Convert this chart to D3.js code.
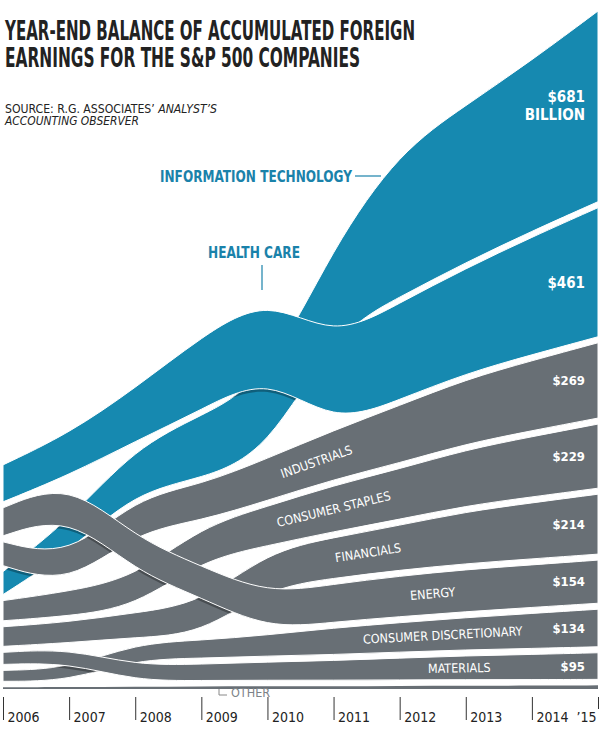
<!DOCTYPE html>
<html>
<head>
<meta charset="utf-8">
<script src="https://cdn.jsdelivr.net/npm/d3@7/dist/d3.min.js"></script>
<style>
    body { margin: 0; background: #fff; }
    svg text { font-family: "DejaVu Sans Condensed", "DejaVu Sans", sans-serif; }
</style>
</head>
<body>
<svg id="chart" width="600" height="735"></svg>
<script>

// year-end balances, $ billion
const years = [2006, 2007, 2008, 2009, 2010, 2011, 2012, 2013, 2014, 2015];
const tickLabels = ["2006", "2007", "2008", "2009", "2010", "2011", "2012", "2013", "2014", "\u201915"];

const infoTech = [82, 112, 158, 225, 255, 310, 520, 560, 610, 681];
const healthCare = [132, 148, 190, 260, 280, 305, 345, 375, 420, 461];
const industrials = [85, 98, 122, 128, 150, 175, 205, 230, 250, 269];
const consumerStaples = [72, 88, 105, 120, 140, 165, 180, 200, 215, 229];
const financials = [70, 74, 88, 110, 130, 145, 160, 185, 200, 214];
const energy = [100, 120, 120, 112, 125, 135, 145, 150, 152, 154];
const consumerDisc = [39, 44, 57, 64, 75, 95, 105, 115, 125, 134];
const materials = [43, 50, 55, 58, 65, 70, 78, 85, 90, 95];
const other = [6, 7, 8, 9, 10, 10, 11, 12, 12, 13];

const sectorNames = ["INFORMATION TECHNOLOGY", "HEALTH CARE", "INDUSTRIALS", "CONSUMER STAPLES",
    "FINANCIALS", "ENERGY", "CONSUMER DISCRETIONARY", "MATERIALS", "OTHER"];

const BLUE = "#1689b0";
const BLUE_TEXT = "#1a82aa";
const GRAY = "#686f75";

/**
 * ranked stream chart: at every year the bands are stacked by size, biggest on top
 * @param svg
 * @constructor
 */
function RankedStream(svg) {

    this.svg = svg;
    this.gap = 6;
    this.baseY = 689;
    this.curve = d3.curveBasis;

    this.x = d3.scaleLinear().domain([2006, 2015]).range([3, 598]);
    this.y = d3.scaleLinear().domain([0, 2400]).range([this.baseY, this.baseY - 2400 * 0.28]);

    this.series = [
        {key: "it", name: sectorNames[0], values: infoTech, color: BLUE},
        {key: "hc", name: sectorNames[1], values: healthCare, color: BLUE},
        {key: "ind", name: sectorNames[2], values: industrials, color: GRAY, labelAt: 2010.74},
        {key: "cs", name: sectorNames[3], values: consumerStaples, color: GRAY, labelAt: 2011.0},
        {key: "fin", name: sectorNames[4], values: financials, color: GRAY, labelAt: 2011.52},
        {key: "en", name: sectorNames[5], values: energy, color: GRAY, labelAt: 2012.5},
        {key: "cd", name: sectorNames[6], values: consumerDisc, color: GRAY, labelAt: 2012.65},
        {key: "mat", name: sectorNames[7], values: materials, color: GRAY, labelAt: 2012.9},
        {key: "oth", name: sectorNames[8], values: other, color: GRAY}
    ];

    // bands that go under other bands are drawn first
    this.drawOrder = ["it", "cd", "oth", "ind", "cs", "fin", "mat", "hc", "en"];

    this.computeLayout();
}

/**
 * stack the sectors for each year, sorted by value
 */
RankedStream.prototype.computeLayout = function () {
    let self = this;

    self.layout = years.map((yr, i) => {
        let vals = self.series.map(s => ({key: s.key, v: s.values[i]}));
        vals.sort((a, b) => a.v - b.v);
        let cum = 0, pos = {};
        vals.forEach((d, r) => {
            pos[d.key] = {y0: self.y(cum) - r * self.gap, y1: self.y(cum + d.v) - r * self.gap};
            cum += d.v;
        });
        return pos;
    });
};

RankedStream.prototype.bandPoints = function (key) {
    let self = this;
    return years.map((yr, i) => ({x: self.x(yr), y0: self.layout[i][key].y0, y1: self.layout[i][key].y1}));
};

/**
 * draw the bands; a band passing over earlier ones casts a small shadow on them
 */
RankedStream.prototype.drawBands = function () {
    let self = this;

    let area = d3.area()
        .x(d => d.x)
        .y0(d => d.y0)
        .y1(d => d.y1)
        .curve(self.curve);

    let defs = self.svg.append("defs");
    let g = self.svg.append("g").attr("class", "bands");
    let drawn = [];

    self.drawOrder.forEach(key => {
        let s = self.series.find(d => d.key === key);
        let d = area(self.bandPoints(key));

        if (drawn.length) {
            let clip = defs.append("clipPath").attr("id", "under-" + key);
            drawn.forEach(pd => clip.append("path").attr("d", pd));
            g.append("g")
                .attr("clip-path", `url(#under-${key})`)
                .append("path")
                .attr("d", d)
                .attr("transform", "translate(0,3)")
                .attr("fill", "rgba(0,0,0,0.3)");
        }

        g.append("path")
            .attr("d", d)
            .attr("fill", s.color)
            .attr("stroke", key === "oth" ? "none" : "#fff")
            .attr("stroke-width", 1);
        drawn.push(d);
    });
};

/**
 * find a point (and slope) on the middle line of a band
 * @param key
 * @param yr
 */
RankedStream.prototype.pointOnBand = function (key, yr) {
    let self = this;
    let pts = self.bandPoints(key).map(d => [d.x, (d.y0 + d.y1) / 2]);
    let path = self.svg.append("path")
        .attr("d", d3.line().curve(self.curve)(pts))
        .attr("fill", "none");
    let node = path.node(), len = node.getTotalLength(), tx = self.x(yr);
    let lo = 0, hi = len;
    for (let k = 0; k < 30; k++) {
        let mid = (lo + hi) / 2;
        if (node.getPointAtLength(mid).x < tx) lo = mid; else hi = mid;
    }
    let p = node.getPointAtLength(lo);
    let a = node.getPointAtLength(Math.max(0, lo - 10));
    let b = node.getPointAtLength(Math.min(len, lo + 10));
    path.remove();
    return {x: p.x, y: p.y, angle: Math.atan2(b.y - a.y, b.x - a.x) * 180 / Math.PI};
};

RankedStream.prototype.drawLabels = function () {
    let self = this;
    let g = self.svg.append("g").attr("class", "labels");

    // names inside the gray bands
    self.series.filter(s => s.labelAt).forEach(s => {
        let p = self.pointOnBand(s.key, s.labelAt);
        g.append("text")
            .attr("transform", `translate(${p.x},${p.y}) rotate(${p.angle})`)
            .attr("text-anchor", "middle")
            .attr("dy", "0.36em")
            .attr("fill", "#fff")
            .attr("font-size", 12.5)
            .text(s.name);
    });

    // 2015 values at the right edge
    let last = years.length - 1;
    self.series.filter(s => s.key !== "oth").forEach(s => {
        let pos = self.layout[last][s.key];
        let mid = (pos.y0 + pos.y1) / 2;
        let big = s.color === BLUE;
        let t = g.append("text")
            .attr("x", self.x(2015) - 13)
            .attr("text-anchor", "end")
            .attr("fill", "#fff")
            .attr("font-weight", "bold")
            .attr("font-size", big ? 15 : 13);
        if (s.key === "it") {
            t.attr("y", mid - 4).text("$" + s.values[last]);
            g.append("text")
                .attr("x", self.x(2015) - 13)
                .attr("y", mid + 14)
                .attr("text-anchor", "end")
                .attr("fill", "#fff")
                .attr("font-weight", "bold")
                .attr("font-size", 15)
                .text("BILLION");
        } else {
            t.attr("y", mid + (big ? 10 : 0)).attr("dy", "0.36em").text("$" + s.values[last]);
        }
    });

    // blue sector names outside the bands
    g.append("text")
        .attr("x", 352).attr("y", 182)
        .attr("text-anchor", "end")
        .attr("fill", BLUE_TEXT)
        .attr("font-weight", "bold")
        .attr("font-size", 15)
        .attr("textLength", 192)
        .attr("lengthAdjust", "spacingAndGlyphs")
        .text(sectorNames[0]);
    g.append("line")
        .attr("x1", 355).attr("x2", 381).attr("y1", 176).attr("y2", 176)
        .attr("stroke", BLUE_TEXT).attr("stroke-width", 1.2);

    g.append("text")
        .attr("x", 254).attr("y", 258)
        .attr("text-anchor", "middle")
        .attr("fill", BLUE_TEXT)
        .attr("font-weight", "bold")
        .attr("font-size", 15)
        .attr("textLength", 92)
        .attr("lengthAdjust", "spacingAndGlyphs")
        .text(sectorNames[1]);
    g.append("line")
        .attr("x1", 262).attr("x2", 262).attr("y1", 265).attr("y2", 290)
        .attr("stroke", BLUE_TEXT).attr("stroke-width", 1.2);

    // other
    g.append("path")
        .attr("d", "M219,689V695H227")
        .attr("fill", "none")
        .attr("stroke", "#888")
        .attr("stroke-width", 1);
    g.append("text")
        .attr("x", 231).attr("y", 697)
        .attr("fill", "#7d8388")
        .attr("font-size", 12.5)
        .text(sectorNames[8]);
};

RankedStream.prototype.drawAxis = function () {
    let self = this;

    let axis = d3.axisBottom(self.x)
        .tickValues(years)
        .tickSize(23)
        .tickFormat((d, i) => tickLabels[i]);

    let g = self.svg.append("g")
        .attr("transform", "translate(0,697)")
        .call(axis);

    g.select(".domain").remove();
    g.selectAll(".tick line").attr("stroke", "#333");
    g.selectAll(".tick text")
        .attr("y", 25)
        .attr("dy", 0)
        .attr("x", 4)
        .attr("text-anchor", "start")
        .attr("fill", "#222")
        .attr("font-size", 14)
        .attr("font-family", "\"DejaVu Sans Condensed\", sans-serif");

    // last tick: short mark, label on its left
    let lastTick = g.selectAll(".tick").filter(d => d === 2015);
    lastTick.select("line").attr("y2", 12);
    lastTick.select("text").attr("x", -2).attr("text-anchor", "end");
};

RankedStream.prototype.drawTitle = function () {
    let self = this;
    let g = self.svg.append("g").attr("class", "title");

    g.append("text")
        .attr("x", 5).attr("y", 40)
        .attr("fill", "#222")
        .attr("font-weight", "bold")
        .attr("font-size", 27)
        .attr("textLength", 410)
        .attr("lengthAdjust", "spacingAndGlyphs")
        .text("YEAR-END BALANCE OF ACCUMULATED FOREIGN");
    g.append("text")
        .attr("x", 5).attr("y", 67)
        .attr("fill", "#222")
        .attr("font-weight", "bold")
        .attr("font-size", 27)
        .attr("textLength", 355)
        .attr("lengthAdjust", "spacingAndGlyphs")
        .text("EARNINGS FOR THE S&P 500 COMPANIES");

    let src = g.append("text")
        .attr("x", 5).attr("y", 113)
        .attr("fill", "#222")
        .attr("font-size", 13)
        .attr("textLength", 212)
        .attr("lengthAdjust", "spacingAndGlyphs");
    src.append("tspan").text("SOURCE: R.G. ASSOCIATES\u2019 ");
    src.append("tspan").attr("font-style", "italic").text("ANALYST\u2019S");

    g.append("text")
        .attr("x", 5).attr("y", 125)
        .attr("fill", "#222")
        .attr("font-size", 13)
        .attr("font-style", "italic")
        .attr("textLength", 134)
        .attr("lengthAdjust", "spacingAndGlyphs")
        .text("ACCOUNTING OBSERVER");
};

let chart = new RankedStream(d3.select("#chart"));
chart.drawBands();
chart.drawLabels();
chart.drawAxis();
chart.drawTitle();

</script>
</body>
</html>
